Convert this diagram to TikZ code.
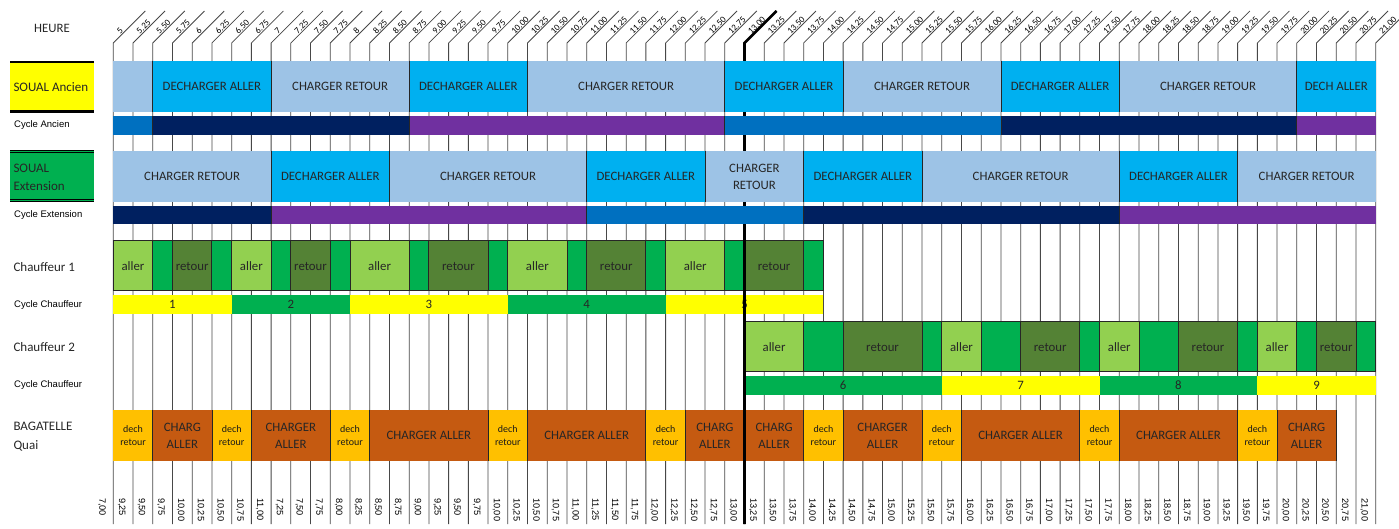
\documentclass[tikz,border=0pt]{standalone}
\usepackage{fontspec}
\setmainfont{Carlito}
\newfontfamily\arialf{Liberation Sans}
\definecolor{bleuclair}{RGB}{157,195,230}
\definecolor{cyanvif}{RGB}{0,176,240}
\definecolor{bleumoyen}{RGB}{0,112,192}
\definecolor{marine}{RGB}{0,32,96}
\definecolor{violetc}{RGB}{112,48,160}
\definecolor{vertclair}{RGB}{146,208,80}
\definecolor{vertvif}{RGB}{0,176,80}
\definecolor{vertfonce}{RGB}{84,130,53}
\definecolor{jaunevif}{RGB}{255,255,0}
\definecolor{orangeq}{RGB}{255,192,0}
\definecolor{brique}{RGB}{197,90,17}
% abscisse de la ligne n de la grille
\newcommand{\xg}[1]{(113.3+19.725*(#1))}

\begin{document}
\begin{tikzpicture}[
    x=1pt, y=-1pt,
    grille/.style={draw=black!72, line width=0.8pt},
    sep/.style={draw=black!85, line width=0.8pt},
    case/.style={draw=black!85, line width=0.9pt},
    epais/.style={line width=2.6pt},
    txt/.style={font=\fontsize{12.8}{17}\selectfont, text=black!85, align=center, inner sep=0pt},
    petit/.style={font=\fontsize{10}{13.6}\selectfont, text=black!90, align=center, inner sep=0pt},
    heure/.style={font=\fontsize{9}{11}\selectfont, rotate=45, anchor=south west, inner sep=0.6pt},
    jour/.style={font=\arialf\fontsize{9.2}{10}\selectfont, rotate=-90, anchor=west, inner sep=0pt},
    titre/.style={font=\fontsize{13}{18.4}\selectfont, anchor=west, align=left, inner sep=0pt, text=black!85},
    sous/.style={font=\arialf\fontsize{9.5}{11}\selectfont, anchor=west, inner sep=0pt}
]
\useasboundingbox (0,0) rectangle (1399,529);

% Grille et heures
\foreach \i in {0,...,64}
    \draw[grille] ({\xg{\i}},524) -- ({\xg{\i}},43) -- ++(32,-32);
\foreach \h [count=\i from 0] in {5,5.25,5.50,5.75,6,6.25,6.50,6.75,7,7.25,7.50,7.75,8,8.25,8.50,8.75}
    \node[heure] (h\i) at ({\xg{\i}+7},36) {\h};
\foreach \i in {16,...,64}{
    \pgfmathsetmacro\v{5+0.25*\i}
    \node[heure] (h\i) at ({\xg{\i}+7},36) {\pgfmathprintnumber[fixed,fixed zerofill,precision=2,assume math mode=true]{\v}};
}
\foreach \k in {-1,...,63}{
    \pgfmathsetmacro\v{ifthenelse(\k<0,7,ifthenelse(\k<8,9.25+0.25*\k,7.25+0.25*(\k-8)))}
    \node[jour] (j\k) at ({\xg{\k+0.5}-1.5},498) {\pgfmathprintnumber[fixed,fixed zerofill,precision=2,use comma,assume math mode=true]{\v}};
}
% Trait de 13h00
\draw[epais] ({\xg{32}+32},11) -- ({\xg{32}},43) -- ({\xg{32}},524);

% Etiquettes de gauche
\node[font=\fontsize{12.8}{15}\selectfont, text=black!85] (heure) at (52,28) {HEURE};
\fill[jaunevif] (10,61) rectangle (94,112);
\draw[line width=2.2pt] (10,62) -- (94,62) (10,111.5) -- (94,111.5);
\node[titre] (ancien) at (13.3,87) {SOUAL Ancien};
\node[sous] (cycanc) at (14,125) {Cycle Ancien};
\fill[vertvif] (10,150) rectangle (94,202);
\draw[line width=0.8pt] (10,150.5) -- (94,150.5) (10,152.8) -- (94,152.8)
    (10,199.5) -- (94,199.5) (10,201.7) -- (94,201.7);
\node[titre] (extension) at (13.3,177.5) {SOUAL\\Extension};
\node[sous] (cycext) at (14,215) {Cycle Extension};
\node[titre] (chauf1) at (13.3,267) {Chauffeur 1};
\node[sous] (cycch1) at (14,305) {Cycle Chauffeur};
\node[titre] (chauf2) at (13.3,347) {Chauffeur 2};
\node[sous] (cycch2) at (14,385) {Cycle Chauffeur};
\node[titre] (quai) at (13.3,436.5) {BAGATELLE\\Quai};

% SOUAL Ancien
\foreach \a/\b/\c/\t in {0/2/bleuclair/{}, 2/8/cyanvif/{DECHARGER ALLER}, 8/15/bleuclair/{CHARGER RETOUR},
    15/21/cyanvif/{DECHARGER ALLER}, 21/31/bleuclair/{CHARGER RETOUR}, 31/37/cyanvif/{DECHARGER ALLER},
    37/45/bleuclair/{CHARGER RETOUR}, 45/51/cyanvif/{DECHARGER ALLER}, 51/60/bleuclair/{CHARGER RETOUR},
    60/64/cyanvif/{DECH ALLER}}{
    \fill[fill=\c] ({\xg{\a}},61) rectangle ({\xg{\b}},112);
    \ifnum\a>0 \draw[sep] ({\xg{\a}},61) -- ({\xg{\a}},112); \fi
    \node[txt] (anc\a) at ({\xg{(\a+\b)/2}},86.5) {\t};
}
\foreach \a/\b/\c in {0/2/bleumoyen, 2/15/marine, 15/31/violetc, 31/45/bleumoyen, 45/60/marine, 60/64/violetc}{
    \fill[fill=\c] ({\xg{\a}},116.5) rectangle ({\xg{\b}},135);
    \ifnum\a>0 \draw[sep] ({\xg{\a}},116.5) -- ({\xg{\a}},135); \fi
}

% SOUAL Extension
\foreach \a/\b/\c/\t in {0/8/bleuclair/{CHARGER RETOUR}, 8/14/cyanvif/{DECHARGER ALLER}, 14/24/bleuclair/{CHARGER RETOUR},
    24/30/cyanvif/{DECHARGER ALLER}, 30/35/bleuclair/{CHARGER\\RETOUR}, 35/41/cyanvif/{DECHARGER ALLER},
    41/51/bleuclair/{CHARGER RETOUR}, 51/57/cyanvif/{DECHARGER ALLER}, 57/64/bleuclair/{CHARGER RETOUR}}{
    \fill[fill=\c] ({\xg{\a}},151) rectangle ({\xg{\b}},202);
    \ifnum\a>0 \draw[sep] ({\xg{\a}},151) -- ({\xg{\a}},202); \fi
    \node[txt] (ext\a) at ({\xg{(\a+\b)/2}},176.5) {\t};
}
\foreach \a/\b/\c in {0/8/marine, 8/24/violetc, 24/35/bleumoyen, 35/51/marine, 51/64/violetc}{
    \fill[fill=\c] ({\xg{\a}},206) rectangle ({\xg{\b}},224.5);
    \ifnum\a>0 \draw[sep] ({\xg{\a}},206) -- ({\xg{\a}},224.5); \fi
}

% Chauffeur 1
\foreach \a/\b/\c/\t in {0/2/vertclair/aller, 2/3/vertvif/{}, 3/5/vertfonce/retour, 5/6/vertvif/{},
    6/8/vertclair/aller, 8/9/vertvif/{}, 9/11/vertfonce/retour, 11/12/vertvif/{},
    12/15/vertclair/aller, 15/16/vertvif/{}, 16/19/vertfonce/retour, 19/20/vertvif/{},
    20/23/vertclair/aller, 23/24/vertvif/{}, 24/27/vertfonce/retour, 27/28/vertvif/{},
    28/31/vertclair/aller, 31/32/vertvif/{}, 32/35/vertfonce/retour, 35/36/vertvif/{}}{
    \filldraw[case, fill=\c] ({\xg{\a}},240) rectangle ({\xg{\b}},290);
    \node[txt] (ch1\a) at ({\xg{(\a+\b)/2}},266) {\t};
}
\foreach \a/\b/\c/\t in {0/6/jaunevif/1, 6/12/vertvif/2, 12/20/jaunevif/3, 20/28/vertvif/4, 28/36/jaunevif/5}{
    \fill[fill=\c] ({\xg{\a}},295) rectangle ({\xg{\b}},314);
    \node[txt] (cy1\a) at ({\xg{(\a+\b)/2}},304.5) {\t};
}

% Chauffeur 2
\foreach \a/\b/\c/\t in {32/35/vertclair/aller, 35/37/vertvif/{}, 37/41/vertfonce/retour, 41/42/vertvif/{},
    42/44/vertclair/aller, 44/46/vertvif/{}, 46/49/vertfonce/retour, 49/50/vertvif/{},
    50/52/vertclair/aller, 52/54/vertvif/{}, 54/57/vertfonce/retour, 57/58/vertvif/{},
    58/60/vertclair/aller, 60/61/vertvif/{}, 61/63/vertfonce/retour, 63/64/vertvif/{}}{
    \filldraw[case, fill=\c] ({\xg{\a}},321.5) rectangle ({\xg{\b}},371);
    \node[txt] (ch2\a) at ({\xg{(\a+\b)/2}},347) {\t};
}
\foreach \a/\b/\c/\t in {32/42/vertvif/6, 42/50/jaunevif/7, 50/58/vertvif/8, 58/64/jaunevif/9}{
    \fill[fill=\c] ({\xg{\a}},375.5) rectangle ({\xg{\b}},394.5);
    \node[txt] (cy2\a) at ({\xg{(\a+\b)/2}},385) {\t};
}

% BAGATELLE Quai
\foreach \a in {0,5,11,19,27,35,41,49,57}{
    \fill[orangeq] ({\xg{\a}},410) rectangle ({\xg{\a+2}},461);
    \node[petit] (dech\a) at ({\xg{\a+1}},435.5) {dech\\retour};
}
\foreach \a/\b/\t in {2/5/{CHARG\\ALLER}, 7/11/{CHARGER\\ALLER}, 13/19/{CHARGER ALLER}, 21/27/{CHARGER ALLER},
    29/32/{CHARG\\ALLER}, 32/35/{CHARG\\ALLER}, 37/41/{CHARGER\\ALLER}, 43/49/{CHARGER ALLER},
    51/57/{CHARGER ALLER}, 59/62/{CHARG\\ALLER}}{
    \fill[brique] ({\xg{\a}},410) rectangle ({\xg{\b}},461);
    \node[txt] (charg\a) at ({\xg{(\a+\b)/2}},435.5) {\t};
}
\foreach \a in {2,5,7,11,13,19,21,27,29,35,37,41,43,49,51,57,59,62}
    \draw[sep] ({\xg{\a}},410) -- ({\xg{\a}},461);

% 13h00 par-dessus les chauffeurs et le quai
\draw[epais] ({\xg{32}},230) -- ({\xg{32}},524);
\end{tikzpicture}
\end{document}
